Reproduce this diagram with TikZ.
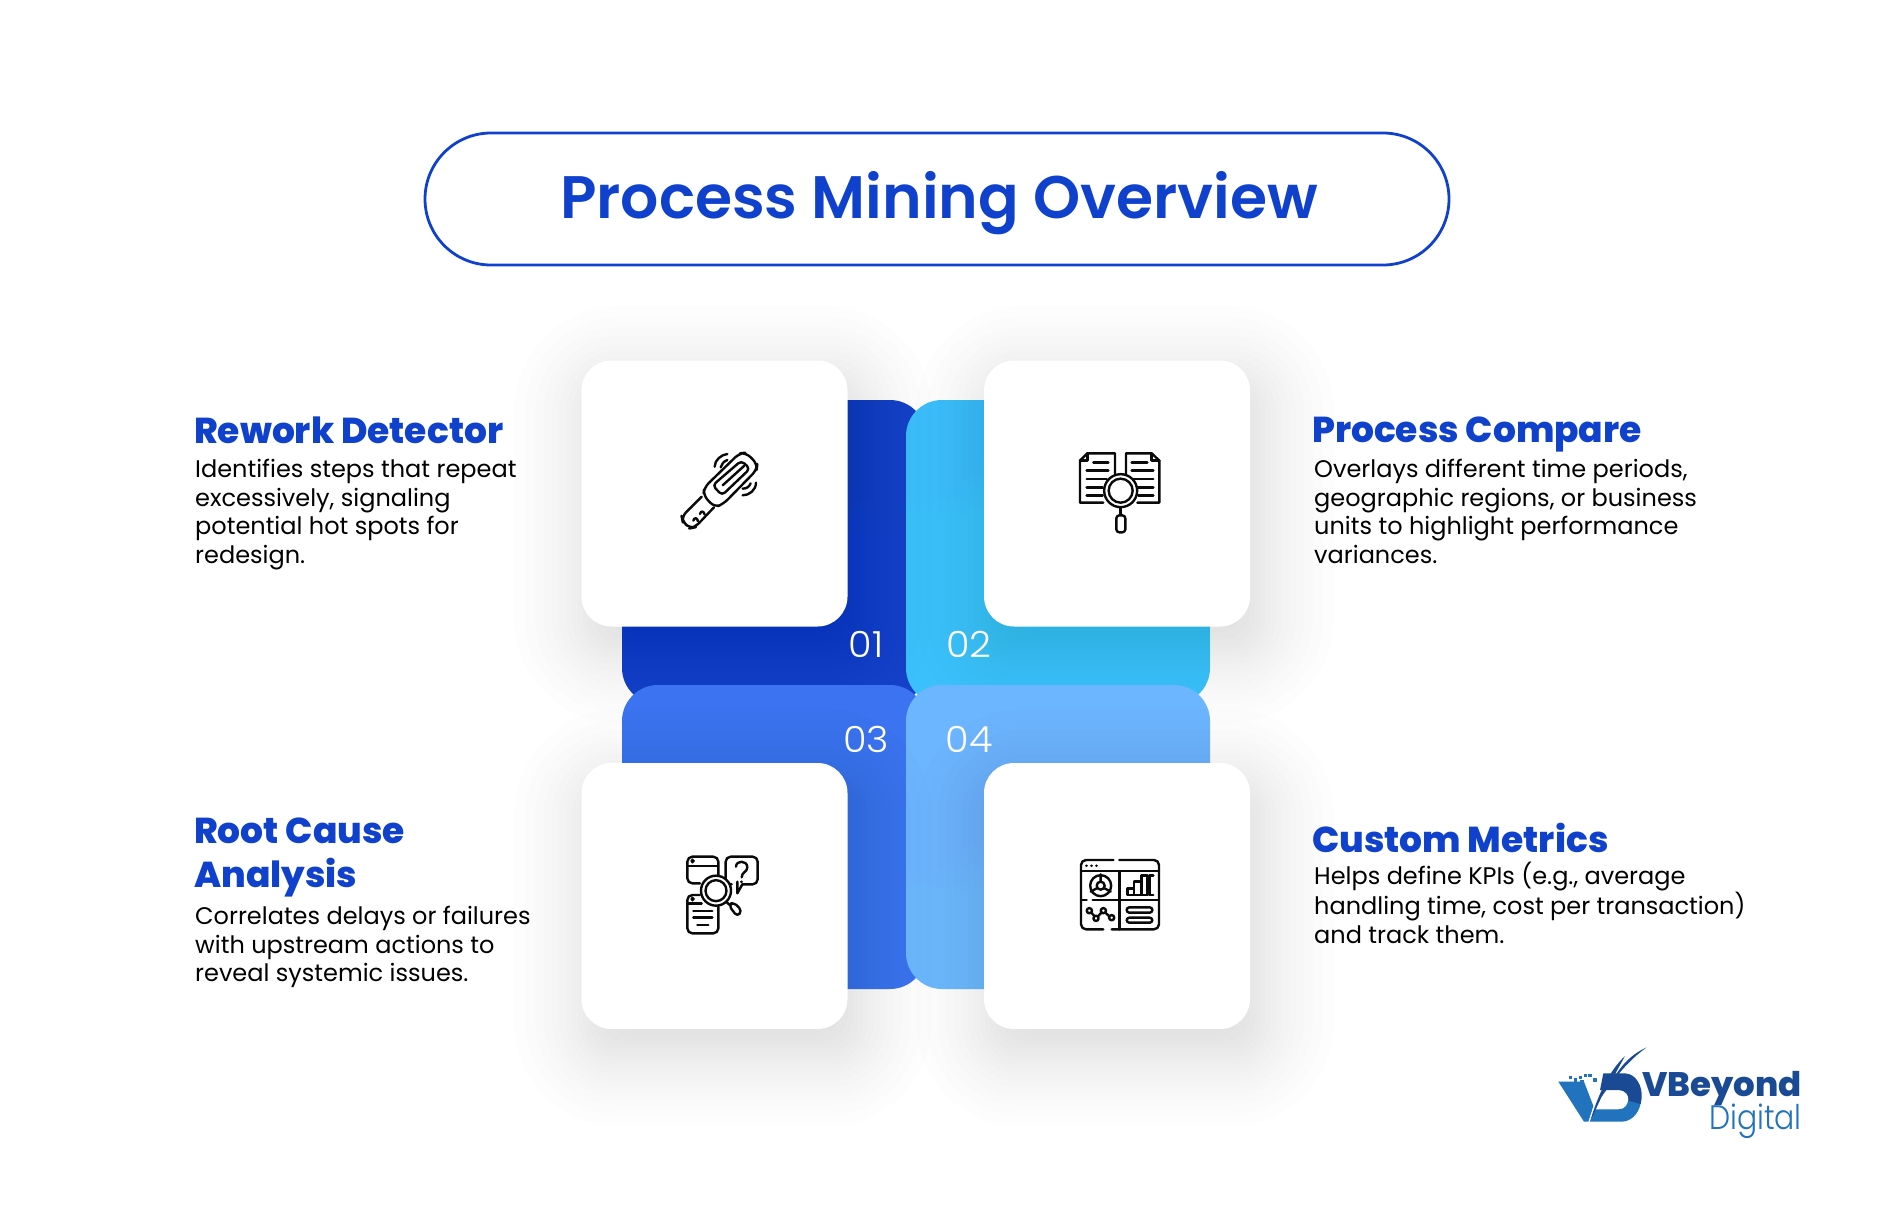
\documentclass[tikz,border=0pt]{standalone}
\usepackage{fontspec}
\setmainfont{Poppins}
\newfontfamily\titlefont{Poppins SemiBold}
\newfontfamily\headfont{Poppins ExtraBold}
\newfontfamily\numfont[FakeStretch=1.06]{Poppins Light}
\newfontfamily\digifont[FakeStretch=0.88]{Poppins Light}
\definecolor{brand}{HTML}{0F41CC}
\definecolor{pone}{HTML}{1642CA}
\definecolor{ptwo}{HTML}{3CC0FC}
\definecolor{pthree}{HTML}{3B73F0}
\definecolor{pfour}{HTML}{6CB6FF}
\definecolor{shade}{HTML}{2A3A60}
\definecolor{ink}{HTML}{0A0A0A}
\definecolor{logodark}{HTML}{1A4A94}
\definecolor{logolight}{HTML}{2073BC}
\tikzset{
  panel/.style={minimum width=304pt,minimum height=304pt,rounded corners=36pt,inner sep=0pt},
  card/.style={fill=white,minimum width=266pt,minimum height=266pt,rounded corners=30pt,inner sep=0pt},
  headtext/.style={anchor=north west,inner sep=0pt,align=left,text=brand,font=\headfont\fontsize{36}{44}\selectfont},
  bodytext/.style={anchor=north west,inner sep=0pt,align=left,text=black,font=\fontsize{24}{28.6}\selectfont},
  numtext/.style={inner sep=0pt,text=white,font=\numfont\fontsize{36}{40}\selectfont},
  icon/.style={draw=ink,line width=2.4pt,line cap=round,line join=round},
  zoomed/.style={x=0.3333pt,y=-0.3333pt}
}
\usetikzlibrary{calc}
\newcommand{\softshadow}[2]{%
  \foreach \e in {-20,-14,-8,-3,2,7,12,18,24,31,38,46,55,65,76}{
    \fill[shade,opacity=0.0056,rounded corners={30pt+max(\e,0)*1pt}]
      ($(#1,#2)+(-133pt-\e*1pt,133pt+\e*1pt)$) rectangle ($(#1,#2)+(133pt+\e*1pt,-133pt-\e*1pt)$);
  }}
\begin{document}
\begin{tikzpicture}[x=1pt,y=-1pt]
\useasboundingbox (0,0) rectangle (1878,1207);
\fill[white] (0,0) rectangle (1878,1207);

% title
\node[draw=brand,line width=2.8pt,minimum width=1024pt,minimum height=132pt,rounded corners=66pt,inner sep=0pt] (pill) at (937,199) {};
\node[inner sep=0pt,text=brand,font=\titlefont\fontsize{60}{70}\selectfont] (title) at (939,203) {Process Mining Overview};

% coloured panels and shadows, back to front
\node[panel,fill=pone] (p1) at (774,552) {};
\node[panel,fill=ptwo] (p2) at (1058,552) {};
\softshadow{723}{515}
\softshadow{1125}{515}
\node[panel,fill=pthree] (p3) at (774,837) {};
\node[panel,fill=pfour] (p4) at (1058,837) {};
\softshadow{723}{918}
\softshadow{1125}{918}

% cards
\node[card] (c1) at (714.5,493.5) {};
\node[card] (c2) at (1117,493.5) {};
\node[card] (c3) at (714.5,896) {};
\node[card] (c4) at (1117,896) {};

% numbers
\node[numtext] (n1) at (866,644) {01};
\node[numtext] (n2) at (969,644) {02};
\node[numtext] (n3) at (866,739) {03};
\node[numtext] (n4) at (969,739) {04};

% texts
\node[headtext] (h1) at (194,417) {Rework Detector};
\node[bodytext] (b1) at (195,459) {Identifies steps that repeat\\excessively, signaling\\potential hot spots for\\redesign.};
\node[headtext] (h2) at (1312,417) {Process Compare};
\node[bodytext] (b2) at (1314,459) {Overlays different time periods,\\geographic regions, or business\\units to highlight performance\\variances.};
\node[headtext] (h3) at (194,818) {Root Cause\\Analysis};
\node[bodytext] (b3) at (195,906) {Correlates delays or failures\\with upstream actions to\\reveal systemic issues.};
\node[headtext] (h4) at (1312,823) {Custom Metrics};
\node[bodytext] (b4) at (1314,862) {Helps define KPIs (e.g., average\\handling time, cost per transaction)\\and track them.};

% icon 1: handheld detector
\begin{scope}[shift={(640pt,-420pt)},zoomed,icon]
  \draw[rounded corners=6pt] (193,202) -- (298,100) -- (318,98) -- (352,132) -- (350,150) -- (250,252) -- (224,262) -- (190,226) -- cycle;
  \draw[rounded corners=4pt] (218,196) -- (304,122) -- (330,146) -- (246,226) -- cycle;
  \draw (248,196) -- (312,138);
  \draw[rounded corners=6pt] (185,230) -- (125,290) -- (128,305) -- (150,325) -- (165,322) -- (222,262);
  \draw (160,302) .. controls (162,292) and (172,292) .. (174,304);
  \draw (180,282) .. controls (182,272) and (192,272) .. (194,284);
  \draw (224,140) .. controls (224,120) and (244,104) .. (262,102);
  \draw (242,142) .. controls (244,132) and (252,124) .. (262,120);
  \draw (308,226) .. controls (328,226) and (348,210) .. (348,188);
  \draw (308,206) .. controls (320,206) and (328,200) .. (332,190);
\end{scope}

% icon 2: documents and lens
\begin{scope}[shift={(1050pt,-430pt)},zoomed,icon]
  \draw (195,130) -- (195,70) -- (112,70) -- (90,92) -- (90,218) -- (160,218);
  \draw (112,70) -- (112,92) -- (90,92);
  \draw (228,130) -- (228,70) -- (305,70) -- (328,92) -- (328,218) -- (262,218);
  \draw (305,70) -- (305,92) -- (328,92);
  \foreach \ya/\xa/\xb in {97/130/175,122/110/175,147/110/170,172/110/158,197/110/158}
    \draw (\xa,\ya) -- (\xb,\ya);
  \foreach \ya/\xa/\xb in {97/245/292,122/245/310,147/250/310,172/265/310,197/265/310}
    \draw (\xa,\ya) -- (\xb,\ya);
  \draw[fill=white] (212,182) circle[radius=16.5pt];
  \draw (212,182) circle[radius=12pt];
  \draw (212,232) -- (212,255);
  \draw[rounded corners=3pt] (199,256) rectangle (226,307);
\end{scope}

% icon 3: windows, question and lens
\begin{scope}[shift={(660pt,-840pt)},zoomed,icon]
  \draw[rounded corners=5pt] (120,130) -- (82,130) -- (82,50) -- (175,50) -- (175,110);
  \draw (82,78) -- (175,78);
  \draw (94,63) -- (102,63) (98,59) -- (98,67);
  \draw[rounded corners=5pt] (215,133) -- (197,133) -- (197,50) -- (293,50) -- (293,133) -- (247,133);
  \draw (247,133) -- (232,160) -- (232,125);
  \draw (228,80) .. controls (228,60) and (262,60) .. (262,82) .. controls (262,96) and (245,96) .. (245,112);
  \draw (245,125) -- (245,126);
  \draw[rounded corners=5pt] (120,165) -- (82,165) -- (82,280) -- (175,280) -- (175,200);
  \draw (82,190) -- (125,190);
  \draw (94,177) -- (102,177) (98,173) -- (98,181);
  \draw (100,213) -- (157,213) (100,233) -- (157,233) (112,255) -- (145,255);
  \draw[fill=white] (168,152) circle[radius=15pt];
  \draw (168,152) circle[radius=10.5pt];
  \draw (200,186) -- (208,194);
  \draw[rounded corners=4pt] (206,196) -- (220,186) -- (246,212) -- (232,230) -- cycle;
\end{scope}

% icon 4: dashboard
\begin{scope}[shift={(1060pt,-845pt)},zoomed,icon]
  \draw[rounded corners=5pt] (160,45) -- (63,45) -- (63,253) -- (130,253);
  \draw[rounded corners=5pt] (178,45) -- (297,45) -- (297,253) -- (155,253);
  \draw (63,78) -- (297,78);
  \foreach \xa in {80,95,110} \draw (\xa,62) -- (\xa,62.5);
  \draw (178,78) -- (178,253);
  \draw (63,165) -- (80,165) (98,165) -- (297,165);
  \draw (122,122) circle[radius=10.5pt];
  \draw (122,122) circle[radius=4pt];
  \draw (122,88) -- (122,108) (92,140) -- (110,130) (152,140) -- (134,130);
  \draw (203,150) rectangle (222,130) (222,150) rectangle (245,110) (245,150) rectangle (262,92);
  \draw (280,92) -- (268,92) -- (268,150) -- (280,150);
  \draw (94,203) -- (104,214) (114,214) -- (124,203) (136,203) -- (148,214);
  \foreach \xa/\ya in {88/197,108/220,130/197,155/218} \draw (\xa,\ya) circle[radius=2.6pt];
  \draw[rounded corners=2.6pt] (200,187) rectangle (277,203);
  \draw[rounded corners=2.6pt] (200,218) rectangle (277,233);
\end{scope}

% logo
\begin{scope}[shift={(1540pt,-1030pt)},zoomed]
  \fill[logolight] (55,155) -- (132,155) -- (160,228) -- (145,275) -- (132,275) -- cycle;
  \fill[logolight] (165,238) -- (235,238) .. controls (255,238) and (262,225) .. (265,210) -- (302,220) .. controls (295,255) and (270,275) .. (245,275) -- (150,275) -- cycle;
  \fill[logodark] (190,130) -- (255,130) .. controls (290,132) and (308,170) .. (305,205) -- (302,222) -- (265,212) .. controls (268,195) and (255,180) .. (235,180) -- (180,180) -- cycle;
  \fill[logodark] (150,275) .. controls (175,190) and (210,120) .. (255,78) .. controls (235,115) and (225,130) .. (215,155) .. controls (240,110) and (270,75) .. (320,52) .. controls (260,95) and (220,150) .. (185,200) -- cycle;
  \foreach \xa/\ya in {92/143,107/150,122/143,137/136,126/155,150/136,165/150}
    \fill[logolight] (\xa-5,\ya-5) rectangle (\xa+5,\ya+5);
\end{scope}
\node[inner sep=0pt,anchor=base west,text=logodark,font=\headfont\fontsize{34}{36}\selectfont] (logo1) at (1642,1096) {VBeyond};
\node[inner sep=0pt,anchor=base east,text=logolight,font=\digifont\fontsize{34}{36}\selectfont] (logo2) at (1802,1129) {Digital};
\end{tikzpicture}
\end{document}
